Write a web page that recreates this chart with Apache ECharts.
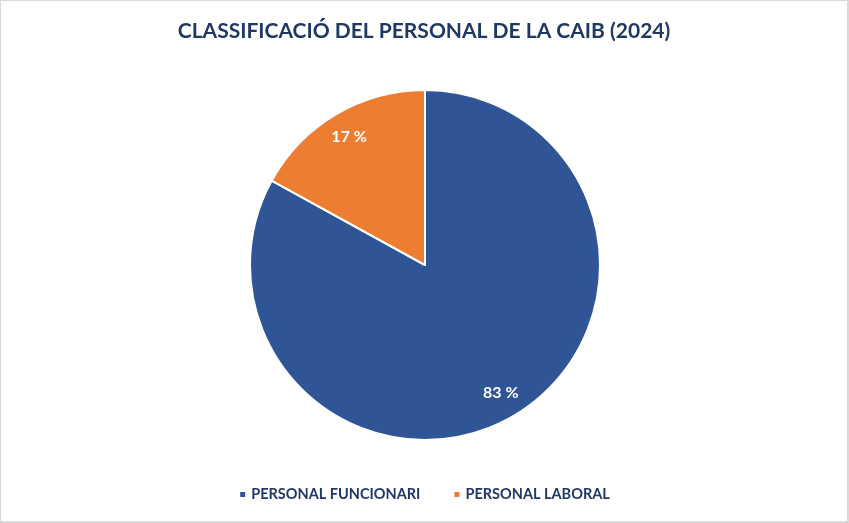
<!DOCTYPE html>
<html>
<head>
<meta charset="utf-8">
<script src="https://cdn.jsdelivr.net/npm/echarts@6/dist/echarts.min.js"></script>
<style>
html,body{margin:0;padding:0;background:#fff;}
#c{width:849px;height:523px;box-sizing:border-box;border:1px solid #d9d9d9;border-bottom-width:2px;border-right-width:2px;}
</style>
</head>
<body>
<div id="c"></div>
<script>
const categories = ['PERSONAL FUNCIONARI', 'PERSONAL LABORAL'];
const values = [83, 17];
const colors = ['#2F5597', '#ED7D31'];
const titleText = 'CLASSIFICACIÓ DEL PERSONAL DE LA CAIB (2024)';

const font = 'Lato, "Open Sans", sans-serif';
const chart = echarts.init(document.getElementById('c'));
const data = categories.map((n, i) => ({ name: n, value: values[i], itemStyle: { color: colors[i] } }));
chart.setOption({
  animation: false,
  title: {
    text: titleText, left: 'center', top: 15,
    textStyle: { fontFamily: font, fontWeight: 'bold', fontSize: 21, color: '#1F3864' }
  },
  legend: {
    data: categories, bottom: 14, left: 'center',
    itemWidth: 7, itemHeight: 7, itemGap: 32, icon: 'rect',
    textStyle: { fontFamily: font, fontWeight: 'bold', fontSize: 14.5, color: '#1F3864' }
  },
  series: [
    {
      type: 'pie', radius: 175, center: [424, 264],
      startAngle: 90, clockwise: true,
      data: data,
      itemStyle: { borderColor: '#fff', borderWidth: 2 },
      label: { show: false }, labelLine: { show: false },
      emphasis: { disabled: true }
    },
    {
      type: 'pie', radius: [117, 175], center: [424, 264],
      startAngle: 90, clockwise: true, silent: true,
      data: categories.map((n, i) => ({ name: n, value: values[i] })),
      itemStyle: { color: 'transparent' },
      label: {
        show: true, position: 'inside', formatter: '{c} %',
        fontFamily: font, fontWeight: 'bold', fontSize: 16, color: '#fff'
      },
      labelLine: { show: false },
      emphasis: { disabled: true }
    }
  ]
});
</script>
</body>
</html>
